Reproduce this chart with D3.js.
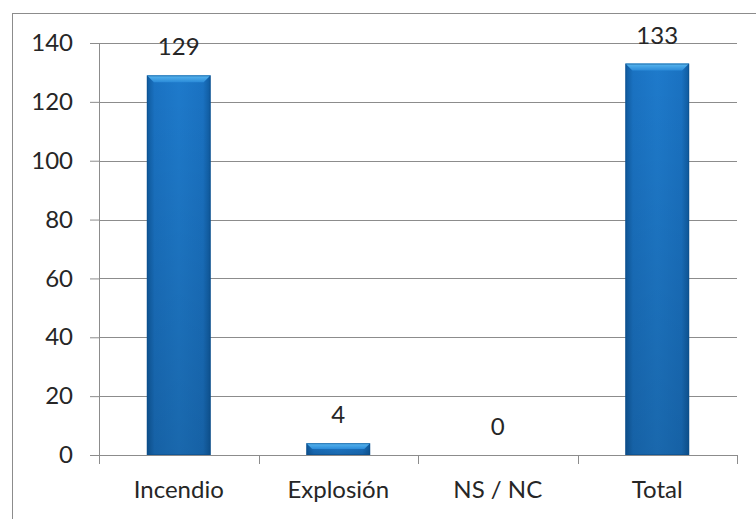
<!DOCTYPE html>
<html><head><meta charset="utf-8">
<script src="https://cdn.jsdelivr.net/npm/d3@7"></script>
<style>
body{margin:0;background:#fff;}
svg{display:block;}
text{font-family:Lato,"Open Sans",sans-serif;fill:#262626;}
</style></head>
<body><svg id="c" width="756" height="519"></svg>
<script>
const categories = ["Incendio","Explosión","NS / NC","Total"];
const values = [129,4,0,133];
const yTicks = [0,20,40,60,80,100,120,140];

const svg = d3.select("#c");
const W=756,H=519;
const m={left:99,right:20,top:43,bottom:64};
const pw=737-99, ph=455-43;
const FONT="Lato,'Open Sans',sans-serif";

// outer frame
svg.append("rect").attr("x",12.5).attr("y",13.5).attr("width",W).attr("height",H)
  .attr("fill","none").attr("stroke","#8c8c8c").attr("stroke-width",1);

const defs=svg.append("defs");
const gH=defs.append("linearGradient").attr("id","gh").attr("x1","0").attr("x2","1").attr("y1","0").attr("y2","0");
gH.append("stop").attr("offset","0").attr("stop-color","#0f5a9e");
gH.append("stop").attr("offset","0.12").attr("stop-color","#1a72c2");
gH.append("stop").attr("offset","0.5").attr("stop-color","#1e7acb");
gH.append("stop").attr("offset","0.88").attr("stop-color","#1a72c2");
gH.append("stop").attr("offset","1").attr("stop-color","#0f5a9e");
const gV=defs.append("linearGradient").attr("id","gv").attr("x1","0").attr("x2","0").attr("y1","0").attr("y2","1");
gV.append("stop").attr("offset","0").attr("stop-color","#000").attr("stop-opacity",0);
gV.append("stop").attr("offset","1").attr("stop-color","#000").attr("stop-opacity",0.15);
const gT=defs.append("linearGradient").attr("id","gt").attr("x1","0").attr("x2","0").attr("y1","0").attr("y2","1");
gT.append("stop").attr("offset","0").attr("stop-color","#5ab8f0");
gT.append("stop").attr("offset","1").attr("stop-color","#2a8ad8");

const g=svg.append("g").attr("transform",`translate(${m.left},${m.top})`);
const x=d3.scaleBand().domain(categories).range([0,pw]).paddingInner(0.6).paddingOuter(0.3);
const y=d3.scaleLinear().domain([0,140]).range([ph,0]);

// gridlines
g.selectAll(".grid").data(yTicks.filter(d=>d>0)).join("line")
  .attr("x1",0).attr("x2",pw).attr("y1",d=>Math.round(y(d))+0.5).attr("y2",d=>Math.round(y(d))+0.5)
  .attr("stroke","#8c8c8c").attr("stroke-width",1);

// y axis
const ya=g.append("g").call(d3.axisLeft(y).tickValues(yTicks).tickSize(9).tickPadding(17));
ya.select(".domain").attr("stroke","#8c8c8c").attr("d",`M0.5,${ph}V0`);
ya.selectAll(".tick line").attr("stroke","#8c8c8c");
ya.selectAll(".tick text").attr("font-size","24px").attr("fill","#262626").attr("font-family",FONT);

// bars
const bars=g.selectAll(".bar").data(values).join("g");
bars.each(function(v,i){
  const sel=d3.select(this);
  const bx=x(categories[i]), bw=x.bandwidth(), by=y(v), bh=ph-y(v);
  if(bh<=0) return;
  sel.append("rect").attr("x",bx).attr("y",by).attr("width",bw).attr("height",bh).attr("fill","url(#gh)");
  sel.append("rect").attr("x",bx).attr("y",by).attr("width",bw).attr("height",bh).attr("fill","url(#gv)");
  const bev=Math.min(7,bh/2);
  sel.append("path").attr("d",`M${bx},${by}H${bx+bw}L${bx+bw-bev},${by+bev}H${bx+bev}Z`).attr("fill","url(#gt)");
  sel.append("rect").attr("x",bx+0.5).attr("y",by+0.5).attr("width",bw-1).attr("height",bh-1)
    .attr("fill","none").attr("stroke","#0c4f8c").attr("stroke-opacity",0.6);
});

// value labels
g.selectAll(".lbl").data(values).join("text")
  .attr("x",(d,i)=>x(categories[i])+x.bandwidth()/2)
  .attr("y",d=>y(d)-20)
  .attr("text-anchor","middle").attr("font-size","24px").attr("font-family",FONT).text(d=>d);

// x axis
const xa=g.append("g").attr("transform",`translate(0,${ph})`)
  .call(d3.axisBottom(x).tickSize(0).tickPadding(26));
xa.select(".domain").attr("stroke","#8c8c8c").attr("d",`M0,0.5H${pw}`);
xa.selectAll(".tick text").attr("font-size","24px").attr("fill","#262626").attr("font-family",FONT);
const bounds=d3.range(categories.length+1).map(i=>i*pw/categories.length);
xa.selectAll(".xt").data(bounds).join("line")
  .attr("x1",d=>Math.round(d)+0.5).attr("x2",d=>Math.round(d)+0.5).attr("y1",0).attr("y2",9)
  .attr("stroke","#8c8c8c");
</script></body></html>
